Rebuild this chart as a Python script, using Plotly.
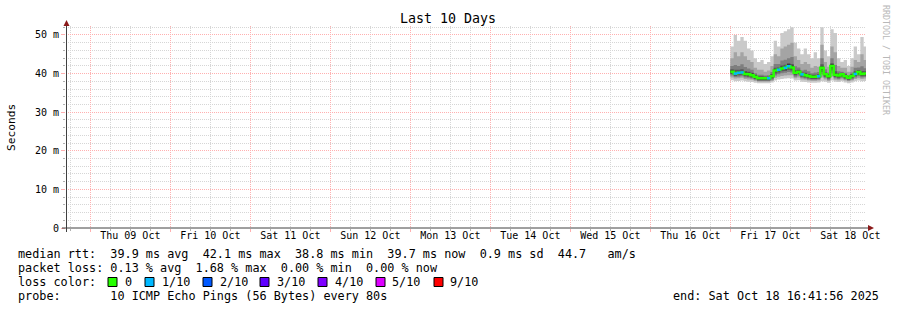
import plotly.graph_objects as go
import pandas as pd

# ---------------- data ----------------
start_time = "2025-10-17 00:00:00"
end_time = "2025-10-18 16:41:56"
range_start = "2025-10-08 16:41:56"

median = [40.5, 40.0, 40.2, 40.3, 39.9, 39.8, 39.6, 39.2, 38.8, 38.8, 38.8, 38.8, 39.3, 40.8, 41.0, 41.3, 41.5,
          41.9, 41.6, 40.2, 40.5, 39.8, 39.6, 39.4, 39.2, 39.2, 39.3, 41.5, 39.8, 39.3, 42.0, 39.7, 39.5, 39.8,
          39.3, 38.9, 39.4, 39.9, 40.4, 39.9, 40.0]
loss = [0, 1, 1, 1, 0, 0, 0, 0, 0, 0, 0, 1, 0, 0, 1, 0, 1, 1, 0, 0, 0, 1, 0, 0, 0, 0, 1, 0, 0, 0, 0, 0, 0, 0,
        0, 0, 0, 1, 0, 0, 0]

p10 = [47.0, 50.0, 48.5, 49.5, 48.5, 46.5, 46.0, 44.0, 43.0, 43.5, 42.5, 43.0, 44.5, 48.5, 47.0, 50.5, 51.0,
       51.5, 52.0, 48.0, 46.5, 45.0, 46.5, 45.0, 44.0, 45.5, 44.0, 52.0, 46.0, 44.5, 51.5, 50.5, 44.0, 43.0,
       43.5, 42.0, 44.0, 47.0, 45.0, 49.5, 47.0]
p9 = [44.0, 45.5, 44.5, 45.5, 44.5, 43.5, 43.0, 41.5, 41.0, 41.0, 40.5, 40.8, 42.0, 45.0, 44.5, 46.5, 47.0,
      47.5, 48.0, 44.5, 43.5, 42.5, 43.0, 42.5, 41.5, 42.0, 41.8, 47.5, 43.0, 41.8, 47.0, 45.5, 42.0, 41.5,
      41.5, 40.5, 41.8, 43.5, 43.0, 45.0, 43.5]
p8 = [42.0, 42.2, 42.0, 42.4, 41.7, 41.3, 41.0, 40.1, 39.7, 39.7, 39.5, 39.6, 40.4, 42.5, 42.5, 43.4, 43.6,
      44.0, 44.3, 41.9, 41.6, 40.8, 41.0, 40.6, 40.1, 40.3, 40.4, 44.0, 41.1, 40.3, 44.0, 42.2, 40.6, 40.5,
      40.2, 39.6, 40.3, 41.5, 41.6, 41.9, 41.4]
p7 = [41.1, 41.0, 41.0, 41.1, 40.7, 40.5, 40.2, 39.7, 39.3, 39.3, 39.2, 39.2, 39.9, 41.5, 41.6, 42.1, 42.3,
      42.7, 42.5, 40.9, 41.0, 40.3, 40.2, 39.9, 39.7, 39.7, 39.8, 42.4, 40.3, 39.8, 42.7, 40.6, 40.1, 40.2,
      39.8, 39.3, 39.9, 40.6, 40.9, 40.7, 40.6]
p6 = [40.8, 40.4, 40.6, 40.7, 40.3, 40.2, 40.0, 39.5, 39.1, 39.1, 39.1, 39.1, 39.6, 41.2, 41.4, 41.8, 42.0,
      42.4, 42.1, 40.6, 40.8, 40.1, 39.9, 39.7, 39.5, 39.5, 39.6, 41.9, 40.1, 39.6, 42.4, 40.1, 39.8, 40.1,
      39.6, 39.2, 39.7, 40.2, 40.7, 40.2, 40.3]
p5 = [40.2, 39.7, 39.9, 40.0, 39.6, 39.5, 39.3, 38.9, 38.5, 38.5, 38.5, 38.5, 39.0, 40.4, 40.7, 41.0, 41.1,
      41.5, 41.2, 39.9, 40.2, 39.5, 39.3, 39.1, 38.9, 38.9, 39.0, 41.0, 39.5, 39.0, 41.4, 39.4, 39.2, 39.5,
      39.0, 38.6, 39.1, 39.6, 40.1, 39.6, 39.7]
p4 = [39.9, 39.4, 39.6, 39.7, 39.3, 39.2, 39.0, 38.6, 38.3, 38.3, 38.3, 38.3, 38.7, 40.0, 40.3, 40.6, 40.7,
      41.0, 40.8, 39.6, 39.9, 39.2, 39.0, 38.8, 38.6, 38.6, 38.7, 40.4, 39.2, 38.7, 40.8, 39.1, 38.9, 39.2,
      38.7, 38.4, 38.8, 39.3, 39.7, 39.3, 39.4]
p3 = [39.5, 39.1, 39.2, 39.3, 39.0, 38.9, 38.7, 38.4, 38.1, 38.1, 38.1, 38.1, 38.4, 39.5, 39.8, 40.1, 40.2,
      40.4, 40.3, 39.2, 39.5, 38.9, 38.7, 38.5, 38.4, 38.4, 38.5, 39.8, 38.9, 38.4, 40.0, 38.8, 38.6, 38.9,
      38.5, 38.2, 38.5, 39.0, 39.3, 39.0, 39.1]
p2 = [39.0, 38.7, 38.8, 38.9, 38.6, 38.5, 38.4, 38.1, 37.9, 37.9, 37.9, 37.9, 38.1, 38.9, 39.2, 39.4, 39.5,
      39.6, 39.6, 38.8, 39.0, 38.5, 38.4, 38.2, 38.1, 38.1, 38.2, 39.0, 38.5, 38.1, 39.2, 38.4, 38.3, 38.5,
      38.2, 38.0, 38.2, 38.6, 38.8, 38.6, 38.7]
p1 = [38.3, 38.0, 38.1, 38.2, 38.0, 37.9, 37.8, 37.6, 37.5, 37.5, 37.5, 37.5, 37.7, 38.2, 38.5, 38.6, 38.7,
      38.8, 38.7, 38.2, 38.3, 37.9, 37.8, 37.7, 37.6, 37.6, 37.7, 38.0, 37.9, 37.6, 38.2, 37.9, 37.8, 38.0,
      37.7, 37.5, 37.7, 38.0, 38.2, 38.0, 38.1]

day_labels = ["Thu 09 Oct", "Fri 10 Oct", "Sat 11 Oct", "Sun 12 Oct", "Mon 13 Oct",
              "Tue 14 Oct", "Wed 15 Oct", "Thu 16 Oct", "Fri 17 Oct", "Sat 18 Oct"]
day_noons = ["2025-10-%02d 12:00:00" % d for d in range(9, 19)]
y_ticks = [0, 10, 20, 30, 40, 50]
y_ticktext = ["0", "10 m", "20 m", "30 m", "40 m", "50 m"]

loss_labels = ["0", "1/10", "2/10", "3/10", "4/10", "5/10", "9/10"]
loss_colors = ["#26ff00", "#00b8ff", "#0059ff", "#5e00ff", "#7e00ff", "#dd00ff", "#ff0000"]
smoke_colors = ["#cacaca", "#a4a4a4", "#7e7e7e", "#585858", "#323232"]

line1 = "median rtt:  39.9 ms avg  42.1 ms max  38.8 ms min  39.7 ms now  0.9 ms sd  44.7   am/s"
line2 = "packet loss: 0.13 % avg  1.68 % max  0.00 % min  0.00 % now"
line4 = "probe:       10 ICMP Echo Pings (56 Bytes) every 80s"
end_text = "end: Sat Oct 18 16:41:56 2025"

# ---------------- geometry ----------------
W, H = 897, 310
L, R, T, B = 66, 31, 26, 82
PW, PH = W - L - R, H - T - B
Y0PIX = H - B


def px(x):
    return (x - L) / PW


def py(y):
    return (Y0PIX - y) / PH


FONT = "DejaVu Sans Mono"
MGRID = "#ffb0b0"
GRID = "#d6d6d6"

times = list(pd.date_range(start_time, periods=len(median), freq="h")) + [pd.Timestamp(end_time)]


def ext(v):
    return list(v) + [v[-1]]


fig = go.Figure()

lows = [p1, p2, p3, p4, p5]
highs = [p10, p9, p8, p7, p6]
for lo, hi, col in zip(lows, highs, smoke_colors):
    fig.add_trace(go.Scatter(x=times, y=ext(lo), mode="lines", line=dict(width=0, shape="hv"),
                             hoverinfo="skip", showlegend=False))
    fig.add_trace(go.Scatter(x=times, y=ext(hi), mode="lines", line=dict(width=0, shape="hv"),
                             fill="tonexty", fillcolor=col, hoverinfo="skip", showlegend=False))

# median line (0 loss colour)
fig.add_trace(go.Scatter(x=times, y=ext(median), mode="lines",
                         line=dict(color=loss_colors[0], width=2.5, shape="hv"), showlegend=False))
# loss segments
bx, by = [], []
for i, l in enumerate(loss):
    if l == 1:
        bx += [times[i], times[i + 1], None]
        by += [median[i], median[i], None]
fig.add_trace(go.Scatter(x=bx, y=by, mode="lines", line=dict(color=loss_colors[1], width=2.5),
                         connectgaps=False, showlegend=False))

# invisible trace for label axis
fig.add_trace(go.Scatter(x=[range_start, end_time], y=[0, 0], xaxis="x2", mode="markers",
                         marker=dict(opacity=0), hoverinfo="skip", showlegend=False))

fig.update_layout(
    width=W, height=H,
    margin=dict(l=L, r=R, t=T, b=B, pad=0),
    paper_bgcolor="white", plot_bgcolor="white",
    showlegend=False, hovermode=False,
    font=dict(family=FONT, size=11.8, color="#000000"),
    xaxis=dict(
        type="date", range=[range_start, end_time],
        showgrid=True, gridcolor=MGRID, griddash="1px,1px", gridwidth=1,
        tick0="2025-10-09 00:00:00", dtick=86400000,
        showticklabels=False, ticks="outside", ticklen=3, tickcolor=MGRID,
        minor=dict(dtick=21600000, tick0="2025-10-09 00:00:00", showgrid=True, gridcolor=GRID,
                   griddash="1px,1px", ticks="outside", ticklen=2, tickcolor="#b0b0b0"),
        showline=False, zeroline=False, fixedrange=True,
    ),
    xaxis2=dict(
        type="date", range=[range_start, end_time], overlaying="x", side="bottom",
        tickmode="array", tickvals=day_noons, ticktext=day_labels, ticks="",
        showgrid=False, zeroline=False, showline=False,
        tickfont=dict(family=FONT, size=10, color="#000000"),
    ),
    yaxis=dict(
        range=[0, 52.33], tickmode="array", tickvals=y_ticks, ticktext=y_ticktext,
        showgrid=True, gridcolor=MGRID, griddash="1px,1px",
        ticks="outside", ticklen=4, tickcolor=MGRID,
        minor=dict(dtick=2, showgrid=True, gridcolor=GRID, griddash="1px,1px",
                   ticks="outside", ticklen=2, tickcolor="#b0b0b0"),
        tickfont=dict(family=FONT, size=10, color="#000000"),
        showline=False, zeroline=False,
    ),
)

shapes = []
axis_col = "#404040"
arrow_col = "#8b1a1a"
# axis lines
shapes.append(dict(type="line", xref="paper", yref="paper", x0=px(66.5), x1=px(66.5), y0=py(232), y1=py(25),
                   line=dict(color=axis_col, width=1)))
shapes.append(dict(type="line", xref="paper", yref="paper", x0=px(62), x1=px(868), y0=py(228), y1=py(228),
                   line=dict(color=axis_col, width=1)))
# arrows
shapes.append(dict(type="path", xref="paper", yref="paper",
                   path="M %f %f L %f %f L %f %f Z" % (px(63.5), py(26), px(69.5), py(26), px(66.5), py(20)),
                   fillcolor=arrow_col, line=dict(color=arrow_col, width=0)))
shapes.append(dict(type="path", xref="paper", yref="paper",
                   path="M %f %f L %f %f L %f %f Z" % (px(868), py(225), px(868), py(231), px(874), py(228)),
                   fillcolor=arrow_col, line=dict(color=arrow_col, width=0)))

# loss colour swatches
sw_x = [108, 145, 203, 260, 318, 376, 434]
lab_x = [123, 160, 218, 275, 333, 390, 448]
for sx, c in zip(sw_x, loss_colors):
    shapes.append(dict(type="rect", xref="paper", yref="paper", x0=px(sx), x1=px(sx + 9),
                       y0=py(286.5), y1=py(277.5), fillcolor=c, line=dict(color="#000000", width=1)))

annotations = []


def txt(x, y, s, xanchor="left", size=11.8, color="#000000", angle=0):
    annotations.append(dict(xref="paper", yref="paper", x=px(x), y=py(y), text=s, showarrow=False,
                            xanchor=xanchor, yanchor="middle", textangle=angle,
                            font=dict(family=FONT, size=size, color=color)))


txt(448, 19, "Last 10 Days", xanchor="center", size=13.3)
txt(11, 127, "Seconds", xanchor="center", size=11.2, angle=-90)
txt(886, 60, "RRDTOOL / TOBI OETIKER", xanchor="center", size=8.3, color="#b8b8b8", angle=90)
txt(16, 254, line1.replace(" ", "&nbsp;"))
txt(16, 268, line2.replace(" ", "&nbsp;"))
txt(16, 282, "loss color:")
for lx, lab in zip(lab_x, loss_labels):
    txt(lx, 282, lab)
txt(16, 296, line4.replace(" ", "&nbsp;"))
txt(881, 296, end_text.replace(" ", "&nbsp;"), xanchor="right")

fig.update_layout(shapes=shapes, annotations=annotations)

fig.write_html("out.html")
